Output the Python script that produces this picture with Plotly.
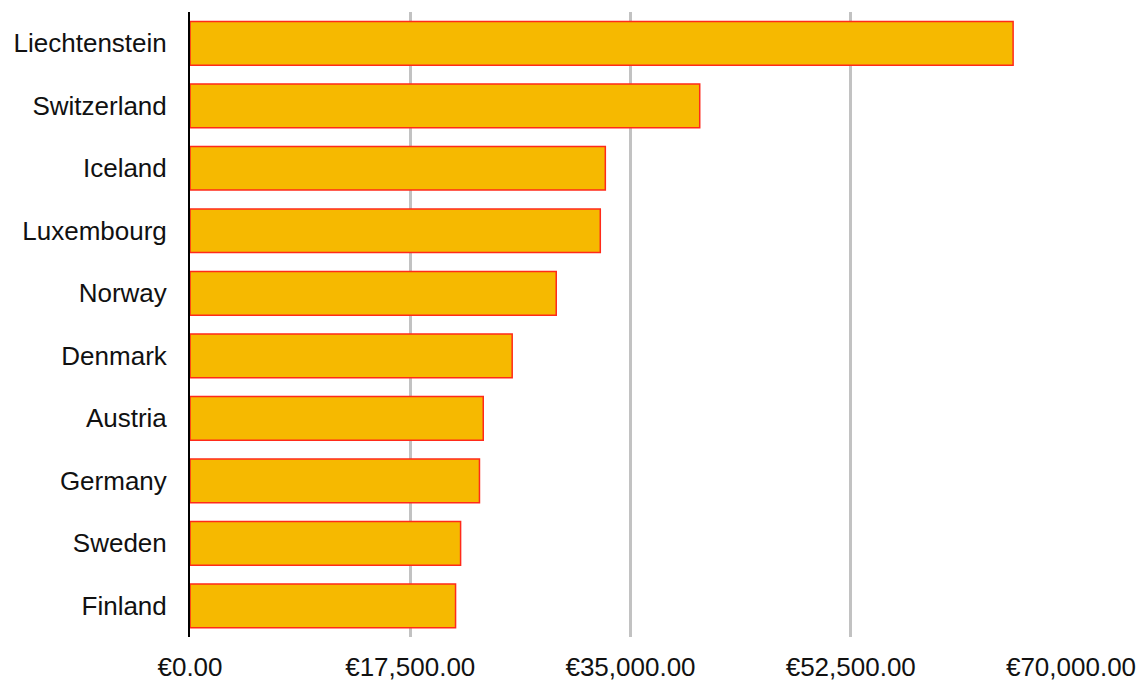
import plotly.graph_objects as go

countries = ["Liechtenstein", "Switzerland", "Iceland", "Luxembourg", "Norway",
             "Denmark", "Austria", "Germany", "Sweden", "Finland"]
values_eur = [65400, 40500, 33000, 32600, 29100, 25600, 23300, 23000, 21500, 21100]
tick_values = [0, 17500, 35000, 52500, 70000]
tick_labels = ["€0.00", "€17,500.00", "€35,000.00", "€52,500.00", "€70,000.00"]

fig = go.Figure(go.Bar(
    x=values_eur,
    y=countries,
    orientation="h",
    width=0.7,
    marker=dict(color="#F6B900", line=dict(color="#FF2A1A", width=1.5)),
    hoverinfo="x+y",
))

fig.update_layout(
    width=1144,
    height=681,
    margin=dict(l=190, r=73, t=12, b=44),
    paper_bgcolor="white",
    plot_bgcolor="white",
    font=dict(family="Liberation Sans, Arial, sans-serif", size=26, color="#111111"),
    showlegend=False,
    xaxis=dict(
        range=[0, 70000],
        tickvals=tick_values,
        ticktext=tick_labels,
        showgrid=True,
        gridcolor="#c2c2c2",
        gridwidth=2.5,
        zeroline=False,
        showline=False,
        ticks="",
        ticklabelstandoff=12,
        automargin=False,
        fixedrange=True,
    ),
    yaxis=dict(
        autorange="reversed",
        showgrid=False,
        showline=True,
        linecolor="#000000",
        linewidth=2,
        ticks="",
        ticklabelstandoff=16,
        automargin=False,
        fixedrange=True,
    ),
)

fig.write_html("out.html")
